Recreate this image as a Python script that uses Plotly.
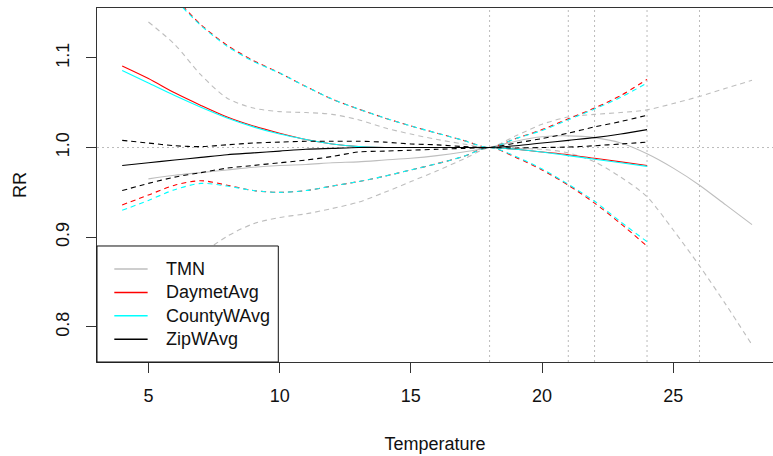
import plotly.graph_objects as go

# ---------------- data ----------------
temp = [4, 5, 6, 7, 8, 9, 10, 11, 12, 13, 14, 15, 16, 17, 18, 19, 20, 21, 22, 23, 24]
temp_tmn = [5, 6, 7, 8, 9, 10, 11, 12, 13, 14, 15, 16, 17, 18, 19, 20, 21, 22, 23, 24, 25, 26, 27, 28]

tmn_rr = [0.965, 0.969, 0.972, 0.975, 0.978, 0.980, 0.981, 0.983, 0.984, 0.986, 0.988, 0.991,
          0.995, 1.000, 1.007, 1.012, 1.013, 1.011, 1.005, 0.993, 0.977, 0.958, 0.936, 0.914]
tmn_hi = [1.140, 1.115, 1.081, 1.055, 1.044, 1.040, 1.039, 1.037, 1.031, 1.022, 1.015, 1.009,
          1.004, 1.000, 1.013, 1.026, 1.034, 1.037, 1.039, 1.042, 1.049, 1.057, 1.066, 1.075]
tmn_lo = [0.838, 0.860, 0.881, 0.901, 0.915, 0.922, 0.926, 0.932, 0.939, 0.950, 0.962, 0.974,
          0.987, 1.000, 0.999, 0.998, 0.994, 0.984, 0.967, 0.945, 0.908, 0.868, 0.825, 0.780]

daymet_rr = [1.091, 1.077, 1.061, 1.047, 1.034, 1.024, 1.016, 1.009, 1.004, 1.001, 1.000, 1.000,
             1.000, 1.000, 1.000, 0.998, 0.995, 0.992, 0.988, 0.984, 0.980]
daymet_hi = [1.245, 1.205, 1.168, 1.137, 1.114, 1.097, 1.083, 1.068, 1.054, 1.043, 1.033, 1.024,
             1.016, 1.008, 1.000, 1.010, 1.020, 1.032, 1.044, 1.058, 1.076]
daymet_lo = [0.936, 0.947, 0.958, 0.963, 0.958, 0.952, 0.950, 0.952, 0.957, 0.962, 0.968, 0.975,
             0.982, 0.990, 1.000, 0.989, 0.975, 0.958, 0.938, 0.915, 0.890]

county_rr = [1.086, 1.072, 1.058, 1.045, 1.033, 1.023, 1.015, 1.009, 1.004, 1.001, 1.000, 1.000,
             1.000, 1.000, 1.000, 0.998, 0.995, 0.991, 0.987, 0.983, 0.979]
county_hi = [1.243, 1.203, 1.166, 1.136, 1.113, 1.096, 1.083, 1.068, 1.054, 1.043, 1.033, 1.024,
             1.016, 1.008, 1.000, 1.010, 1.019, 1.031, 1.043, 1.056, 1.072]
county_lo = [0.930, 0.941, 0.953, 0.960, 0.957, 0.952, 0.950, 0.952, 0.957, 0.962, 0.968, 0.975,
             0.982, 0.990, 1.000, 0.990, 0.976, 0.959, 0.940, 0.917, 0.895]

zip_rr = [0.980, 0.983, 0.986, 0.989, 0.992, 0.994, 0.996, 0.998, 0.999, 1.000, 1.000, 1.000,
          1.000, 1.000, 1.000, 1.002, 1.005, 1.008, 1.011, 1.015, 1.020]
zip_hi = [1.008, 1.005, 1.002, 1.001, 1.003, 1.005, 1.006, 1.007, 1.007, 1.007, 1.006, 1.004,
          1.003, 1.001, 1.000, 1.005, 1.010, 1.016, 1.023, 1.029, 1.036]
zip_lo = [0.952, 0.960, 0.967, 0.972, 0.977, 0.980, 0.983, 0.986, 0.990, 0.995, 0.996, 0.997,
          0.998, 0.999, 1.000, 0.9995, 1.000, 1.0005, 1.002, 1.004, 1.006]

ref_lines_x = [18, 21, 22, 24, 26]
ref_line_y = 1.0

series_names = ["TMN", "DaymetAvg", "CountyWAvg", "ZipWAvg"]
x_ticks = [5, 10, 15, 20, 25]
y_ticks = [0.8, 0.9, 1.0, 1.1]
y_tick_text = ["0.8", "0.9", "1.0", "1.1"]

# ---------------- styling ----------------
colors = {"TMN": "#BEBEBE", "DaymetAvg": "#FF0000", "CountyWAvg": "#00FFFF", "ZipWAvg": "#000000"}
FONT = "Liberation Sans, Arial, sans-serif"
FS = 18
AX = "#333333"

fig = go.Figure()

series = [
    ("TMN", temp_tmn, tmn_rr, tmn_hi, tmn_lo),
    ("DaymetAvg", temp, daymet_rr, daymet_hi, daymet_lo),
    ("CountyWAvg", temp, county_rr, county_hi, county_lo),
    ("ZipWAvg", temp, zip_rr, zip_hi, zip_lo),
]

for name, xs, rr, hi, lo in series:
    c = colors[name]
    fig.add_trace(go.Scatter(x=xs, y=rr, mode="lines", name=name,
                             line=dict(color=c, width=1.1, shape="spline", smoothing=0.8),
                             showlegend=False))
    for band, lab in ((hi, "upper"), (lo, "lower")):
        fig.add_trace(go.Scatter(x=xs, y=band, mode="lines", name=f"{name} {lab}",
                                 line=dict(color=c, width=1.1, dash="5px,4px", shape="spline", smoothing=0.8),
                                 showlegend=False))

for v in ref_lines_x:
    fig.add_vline(x=v, line=dict(color="#BBBBBB", width=1, dash="2px,3px"), layer="below")
fig.add_hline(y=ref_line_y, line=dict(color="#BBBBBB", width=1, dash="2px,3px"), layer="below")

# manual R-style legend
leg_x0, leg_x1, leg_y0, leg_y1 = 0.0, 0.2682, 0.0, 0.3277
fig.add_shape(type="rect", xref="paper", yref="paper", x0=leg_x0, x1=leg_x1, y0=leg_y0, y1=leg_y1,
              fillcolor="white", line=dict(color="#111111", width=1), layer="above")
row_y = [0.2627, 0.1966, 0.1305, 0.0644]
for name, yy in zip(series_names, row_y):
    fig.add_shape(type="line", xref="paper", yref="paper", x0=0.0256, x1=0.0749, y0=yy, y1=yy,
                  line=dict(color=colors[name], width=1.5), layer="above")
    fig.add_annotation(xref="paper", yref="paper", x=0.0996, y=yy, text=name, showarrow=False,
                       xanchor="left", yanchor="middle", font=dict(family=FONT, size=FS, color="#111111"))

fig.update_layout(
    width=773, height=456,
    margin=dict(l=97, r=0, t=8, b=94),
    paper_bgcolor="white", plot_bgcolor="white",
    font=dict(family=FONT, size=FS, color="#111111"),
    showlegend=False,
    xaxis=dict(range=[3.04, 28.80], tickvals=x_ticks, ticks="outside", ticklen=10, tickwidth=1,
               tickcolor=AX, showline=True, linecolor=AX, linewidth=1, mirror=True,
               showgrid=False, zeroline=False, ticklabelstandoff=7,
               title=dict(text="Temperature", standoff=32, font=dict(family=FONT, size=FS))),
    yaxis=dict(range=[0.7608, 1.1556], tickvals=y_ticks, ticktext=y_tick_text, tickangle=-90,
               ticks="outside", ticklen=10, tickwidth=1, tickcolor=AX, showline=True,
               linecolor=AX, linewidth=1, mirror=False, showgrid=False, zeroline=False,
               ticklabelstandoff=10,
               title=dict(text="RR", standoff=21, font=dict(family=FONT, size=FS))),
)

fig.write_html("out.html")
